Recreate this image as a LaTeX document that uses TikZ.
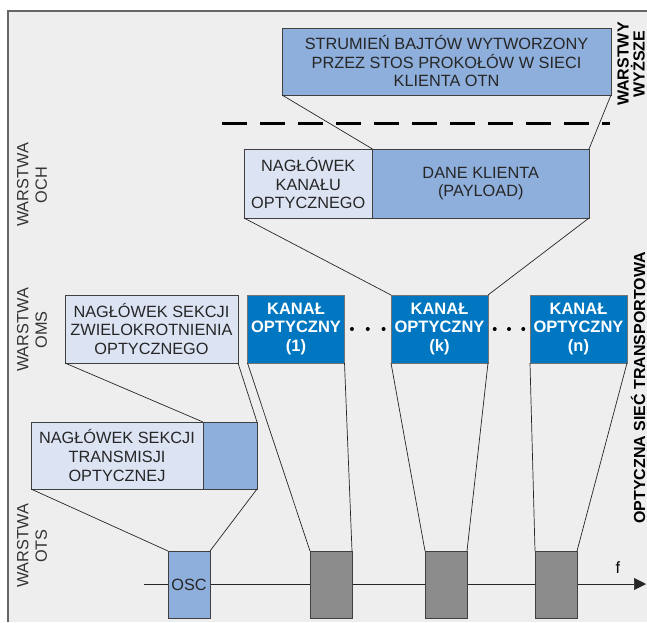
\documentclass[tikz,border=0pt]{standalone}
\usepackage{fontspec}
\setmainfont{Liberation Sans}
\usetikzlibrary{arrows.meta, positioning, calc}
\usepackage{xcolor}
\definecolor{panelGray}{HTML}{EEEEEE}
\definecolor{headLight}{HTML}{DCE3F3}
\definecolor{dataBlue}{HTML}{8EAEDB}
\definecolor{chanBlue}{HTML}{0077C0}
\definecolor{slotGray}{HTML}{8C8C8C}
\tikzset{
    font=\fontsize{16.3}{18.5}\selectfont,
    >={Triangle[length=12pt, width=12pt]},
    % Colors
    boxLight/.style={draw=black!75, fill=headLight, text=black!85},
    boxBlue/.style={draw=black!75, fill=dataBlue, text=black!85},
    boxChan/.style={draw=black!55, fill=chanBlue, text=white,
                    font=\fontsize{16.5}{18.5}\selectfont\bfseries},
    boxSlot/.style={draw=black!75, fill=slotGray},
    % Shapes
    blk/.style={rectangle, inner sep=0pt, outer sep=0pt, align=center, anchor=north west},
    layerLbl/.style={rotate=90, align=center, text=black!80, inner sep=0pt},
    sideLbl/.style={rotate=90, align=center, inner sep=0pt,
                    font=\fontsize{16}{16}\selectfont\bfseries},
    % Lines
    link/.style={black!85, line width=0.7pt},
    cut/.style={line width=3pt, dash pattern=on 25pt off 13pt}
}

\begin{document}
\begin{tikzpicture}[x=1pt, y=-1pt]

\useasboundingbox (0,0) rectangle (647,622);
\fill[panelGray] (8,11) rectangle (647,622);
\draw[black!60, line width=2pt] (8,622) -- (8,11) -- (647,11);

% upper layers
\node[blk, boxBlue, minimum width=329pt, minimum height=67pt] (stream) at (282,28)
    {STRUMIEŃ BAJTÓW WYTWORZONY\\PRZEZ STOS PROKOŁÓW W SIECI\\KLIENTA OTN};
\node[sideLbl] (upper) at (631,64) {WARSTWY\\WYŻSZE};
\coordinate (cutL) at (222,123);
\coordinate (cutR) at (610,123);
\draw[cut] (cutL) -- (cutR);

% OCH
\node[blk, boxLight, minimum width=128.5pt, minimum height=69pt] (ochHead) at (244,149)
    {NAGŁÓWEK\\KANAŁU\\OPTYCZNEGO};
\node[blk, boxBlue, minimum width=216.5pt, minimum height=69pt, anchor=west,
      right=0pt of ochHead] (payload) {DANE KLIENTA\\(PAYLOAD)};
\node[layerLbl] (lblOch) at (32,185) {WARSTWA\\OCH};

\draw[link] (stream.south west) -- (payload.north west);
\draw[link] (stream.south east) -- (payload.north east);

% OMS
\node[blk, boxLight, minimum width=173pt, minimum height=68pt] (omsHead) at (65,295)
    {NAGŁÓWEK SEKCJI\\ZWIELOKROTNIENIA\\OPTYCZNEGO};
\node[blk, boxChan, minimum width=97pt, minimum height=68pt] (ch1) at (247.5,295)
    {KANAŁ\\OPTYCZNY\\(1)};
\node[blk, boxChan, minimum width=97pt, minimum height=68pt] (chk) at (391,295)
    {KANAŁ\\OPTYCZNY\\(k)};
\node[blk, boxChan, minimum width=97pt, minimum height=68pt] (chn) at (530,295)
    {KANAŁ\\OPTYCZNY\\(n)};
\node[layerLbl] (lblOms) at (32,330) {WARSTWA\\OMS};
\node[sideLbl] (transport) at (638,388) {OPTYCZNA SIEĆ TRANSPORTOWA};

\foreach \f in {0.16,0.5,0.84} {
    \fill ($(ch1.east)!\f!(chk.west)$) circle (2pt);
    \fill ($(chk.east)!\f!(chn.west)$) circle (2pt);
}

\draw[link] (ochHead.south west) -- (chk.north west);
\draw[link] (payload.south east) -- (chk.north east);

% OTS
\node[blk, boxLight, minimum width=172pt, minimum height=67pt] (otsHead) at (31,422)
    {NAGŁÓWEK SEKCJI\\TRANSMISJI\\OPTYCZNEJ};
\node[blk, boxBlue, minimum width=54pt, minimum height=67pt, anchor=west,
      right=0pt of otsHead] (otsData) {};
\node[layerLbl] (lblOts) at (32,546) {WARSTWA\\OTS};

\draw[link] (omsHead.south west) -- (otsData.north west);
\draw[link] (omsHead.south east) -- (otsData.north east);

% spectrum
\coordinate (axisL) at (144,584);
\coordinate (axisR) at (646,584);
\draw[link, ->] (axisL) -- (axisR);
\node (freq) at (618,568) {f};

\node[blk, boxBlue, minimum width=42pt, minimum height=67pt] (osc) at (168,551) {OSC};
\node[blk, boxSlot, minimum width=42pt, minimum height=67pt] (s1) at (310,551) {};
\node[blk, boxSlot, minimum width=42pt, minimum height=67pt] (sk) at (425,551) {};
\node[blk, boxSlot, minimum width=42pt, minimum height=67pt] (sn) at (535,551) {};

\draw[link] (otsHead.south west) -- (osc.north west);
\draw[link] (otsData.south east) -- (osc.north east);
\draw[link] (ch1.south west) -- (s1.north west);
\draw[link] (ch1.south east) -- (s1.north east);
\draw[link] (chk.south west) -- (sk.north west);
\draw[link] (chk.south east) -- (sk.north east);
\draw[link] (chn.south west) -- (sn.north west);
\draw[link] (chn.south east) -- (sn.north east);

\end{tikzpicture}
\end{document}
